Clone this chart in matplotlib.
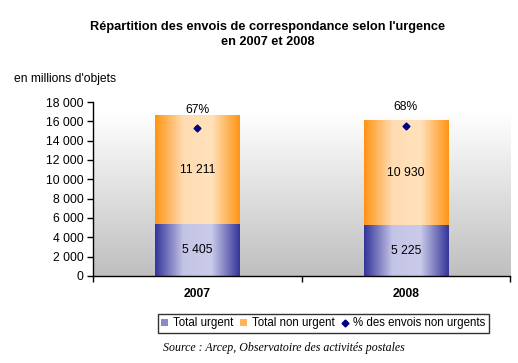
import numpy as np
import matplotlib
matplotlib.use('Agg')
import matplotlib.pyplot as plt
from matplotlib.colors import LinearSegmentedColormap
from matplotlib.lines import Line2D
from matplotlib.patches import Patch

years = ['2007', '2008']
urgent = [5405, 5225]
non_urgent = [11211, 10930]
pct_non_urgent = [67, 68]


def fmt_fr(v):
    return f"{v:,.0f}".replace(',', ' ')


plt.rcParams['font.family'] = ['Liberation Sans', 'DejaVu Sans']
fs = 8.7

fig = plt.figure(figsize=(5.18, 3.63), dpi=100)
ax = fig.add_axes([0.1795, 0.2397, 0.8051, 0.4793])

# gradient background of plot area (white at top, grey at bottom)
grad = np.linspace(0, 1, 256).reshape(-1, 1)
bg_cmap = LinearSegmentedColormap.from_list(
    'bg', [(0, '#ffffff'), (0.06, '#ffffff'), (1, '#bfbfbf')])
ax.imshow(grad, cmap=bg_cmap, aspect='auto', extent=[0, 1, 0, 1],
          transform=ax.transAxes, zorder=0)

x = np.arange(len(years))
width = 0.404

blue_cmap = LinearSegmentedColormap.from_list('b', ['#34349a', '#c4c4e6', '#cacaea', '#34349a'])
orange_cmap = LinearSegmentedColormap.from_list('o', ['#ff9414', '#ffdcb2', '#ffe2bc', '#ff9414'])
hgrad = np.linspace(0, 1, 256).reshape(1, -1)

bars_u = ax.bar(x, urgent, width, color='none', zorder=2)
bars_n = ax.bar(x, non_urgent, width, bottom=urgent, color='none', zorder=2)

for bars, cmap in [(bars_u, blue_cmap), (bars_n, orange_cmap)]:
    for b in bars:
        x0, y0 = b.get_x(), b.get_y()
        im = ax.imshow(hgrad, cmap=cmap, aspect='auto',
                       extent=[x0, x0 + b.get_width(), y0, y0 + b.get_height()],
                       zorder=1.5)
        im.set_clip_path(b)

for i in range(len(years)):
    ax.text(x[i], urgent[i] / 2, fmt_fr(urgent[i]), ha='center', va='center', fontsize=fs, zorder=4)
    ax.text(x[i], urgent[i] + non_urgent[i] / 2, fmt_fr(non_urgent[i]),
            ha='center', va='center', fontsize=fs, zorder=4)

ax.set_xlim(-0.5, 1.5)
ax.set_ylim(0, 18000)
ax.set_yticks(np.arange(0, 18001, 2000))
ax.set_yticklabels([fmt_fr(v) for v in np.arange(0, 18001, 2000)], fontsize=fs)
ax.set_xticks(x)
ax.set_xticklabels(years, fontsize=fs, fontweight='bold')
ax.set_xticks([-0.5, 0.5, 1.5], minor=True)
ax.tick_params(axis='x', which='major', length=0, pad=9)
ax.tick_params(axis='x', which='minor', length=4, direction='out', width=1)
ax.tick_params(axis='y', length=4, direction='out', width=1, pad=3)
for s in ['top', 'right']:
    ax.spines[s].set_visible(False)
ax.spines['left'].set_linewidth(1)
ax.spines['bottom'].set_linewidth(1)

# secondary axis for percentages
ax2 = ax.twinx()
ax2.set_ylim(0, 78.8)
ax2.plot(x, pct_non_urgent, linestyle='none', marker='D', markersize=3.5,
         color='#000080', zorder=5)
for i in range(len(years)):
    ax2.annotate(f"{pct_non_urgent[i]}%", (x[i], pct_non_urgent[i]), xytext=(0, 9),
                 textcoords='offset points', ha='center', va='bottom', fontsize=fs)
ax2.set_axis_off()

fig.text(0.517, 0.906, "Répartition des envois de correspondance selon l'urgence\nen 2007 et 2008",
         ha='center', va='center', fontsize=9.2, fontweight='bold', linespacing=1.35)
fig.text(0.027, 0.782, "en millions d'objets", ha='left', va='center', fontsize=fs)

handles = [Patch(facecolor='#8a8ac8', edgecolor='none'),
           Patch(facecolor='#ffb45a', edgecolor='none'),
           Line2D([], [], linestyle='none', marker='D', markersize=3.5, color='#000080')]
leg = fig.legend(handles, ['Total urgent', 'Total non urgent', '% des envois non urgents'],
                 loc='center', bbox_to_anchor=(0.624, 0.109), ncol=3, fontsize=8.3,
                 frameon=True, fancybox=False, edgecolor='black', handlelength=0.6,
                 handleheight=0.6, handletextpad=0.4, columnspacing=0.6,
                 borderpad=0.3, borderaxespad=0)
leg.get_frame().set_linewidth(1)

fig.text(0.315, 0.04, "Source : Arcep, Observatoire des activités postales", ha='left',
         va='center', fontsize=8.6, style='italic', family=['Liberation Serif', 'DejaVu Serif'])

fig.savefig('out.png', dpi=100)
